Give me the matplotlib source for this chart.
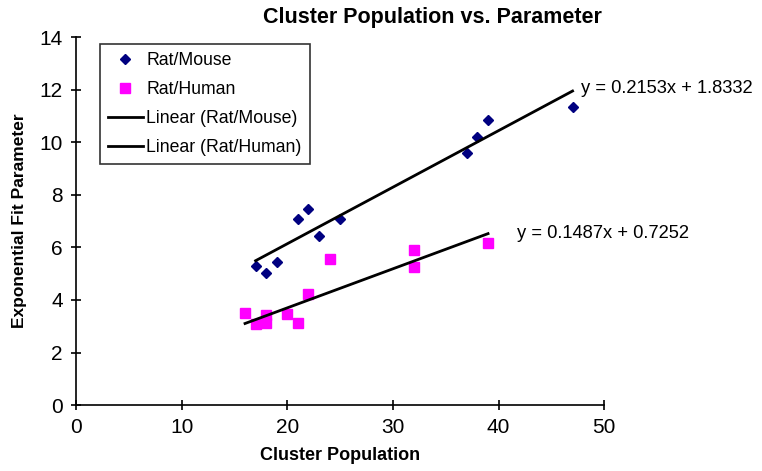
import matplotlib
matplotlib.use("Agg")
import matplotlib.pyplot as plt
import numpy as np

plt.rcParams['font.family'] = ['Liberation Sans', 'DejaVu Sans']

mouse_x = [17, 18, 19, 21, 22, 23, 25, 37, 38, 39, 47]
mouse_y = [5.3, 5.02, 5.44, 7.07, 7.45, 6.43, 7.07, 9.58, 10.19, 10.84, 11.33]
human_x = [16, 17, 18, 18, 20, 21, 22, 24, 32, 32, 39]
human_y = [3.5, 3.08, 3.42, 3.12, 3.46, 3.12, 4.22, 5.55, 5.89, 5.25, 6.16]
mouse_fit = (0.2153, 1.8332)
human_fit = (0.1487, 0.7252)
x_ticks = [0, 10, 20, 30, 40, 50]
y_ticks = [0, 2, 4, 6, 8, 10, 12, 14]

fig = plt.figure(figsize=(7.62, 4.71), dpi=100)
ax = fig.add_axes([0.0997, 0.140, 0.6933, 0.781])

ax.plot(mouse_x, mouse_y, linestyle='none', marker='D', markersize=5.5,
        color='#000080', label='Rat/Mouse')
ax.plot(human_x, human_y, linestyle='none', marker='s', markersize=6.5,
        color='#FF00FF', label='Rat/Human')

mx = np.array([min(mouse_x), max(mouse_x)])
hx = np.array([min(human_x), max(human_x)])
ax.plot(mx, mouse_fit[0] * mx + mouse_fit[1], color='black', lw=2,
        label='Linear (Rat/Mouse)')
ax.plot(hx, human_fit[0] * hx + human_fit[1], color='black', lw=2,
        label='Linear (Rat/Human)')

ax.text(47.8, 12.05, 'y = 0.2153x + 1.8332', fontsize=13.2,
        va='center', ha='left')
ax.text(41.7, 6.54, 'y = 0.1487x + 0.7252', fontsize=13.2,
        va='center', ha='left')

ax.set_xlim(0, 50)
ax.set_ylim(0, 14)
ax.set_xticks(x_ticks)
ax.set_yticks(y_ticks)
ax.tick_params(axis='both', direction='inout', length=7, width=1.2,
               labelsize=15, pad=6)
for s in ['top', 'right']:
    ax.spines[s].set_visible(False)
for s in ['left', 'bottom']:
    ax.spines[s].set_linewidth(1.2)

fig.text(0.568, 0.963, 'Cluster Population vs. Parameter', fontsize=15.5,
         fontweight='bold', ha='center', va='center')
ax.set_xlabel('Cluster Population', fontsize=13, fontweight='bold',
              labelpad=7)
ax.set_ylabel('Exponential Fit Parameter', fontsize=12.5, fontweight='bold',
              labelpad=9)

leg = ax.legend(loc='upper left', bbox_to_anchor=(0.045, 0.981),
                borderaxespad=0, fontsize=12.7,
                frameon=True, fancybox=False, edgecolor='black',
                handlelength=2.0, borderpad=0.45, labelspacing=0.68,
                handletextpad=0.2)
leg.get_frame().set_linewidth(1.2)

fig.savefig('out.png', dpi=100)
